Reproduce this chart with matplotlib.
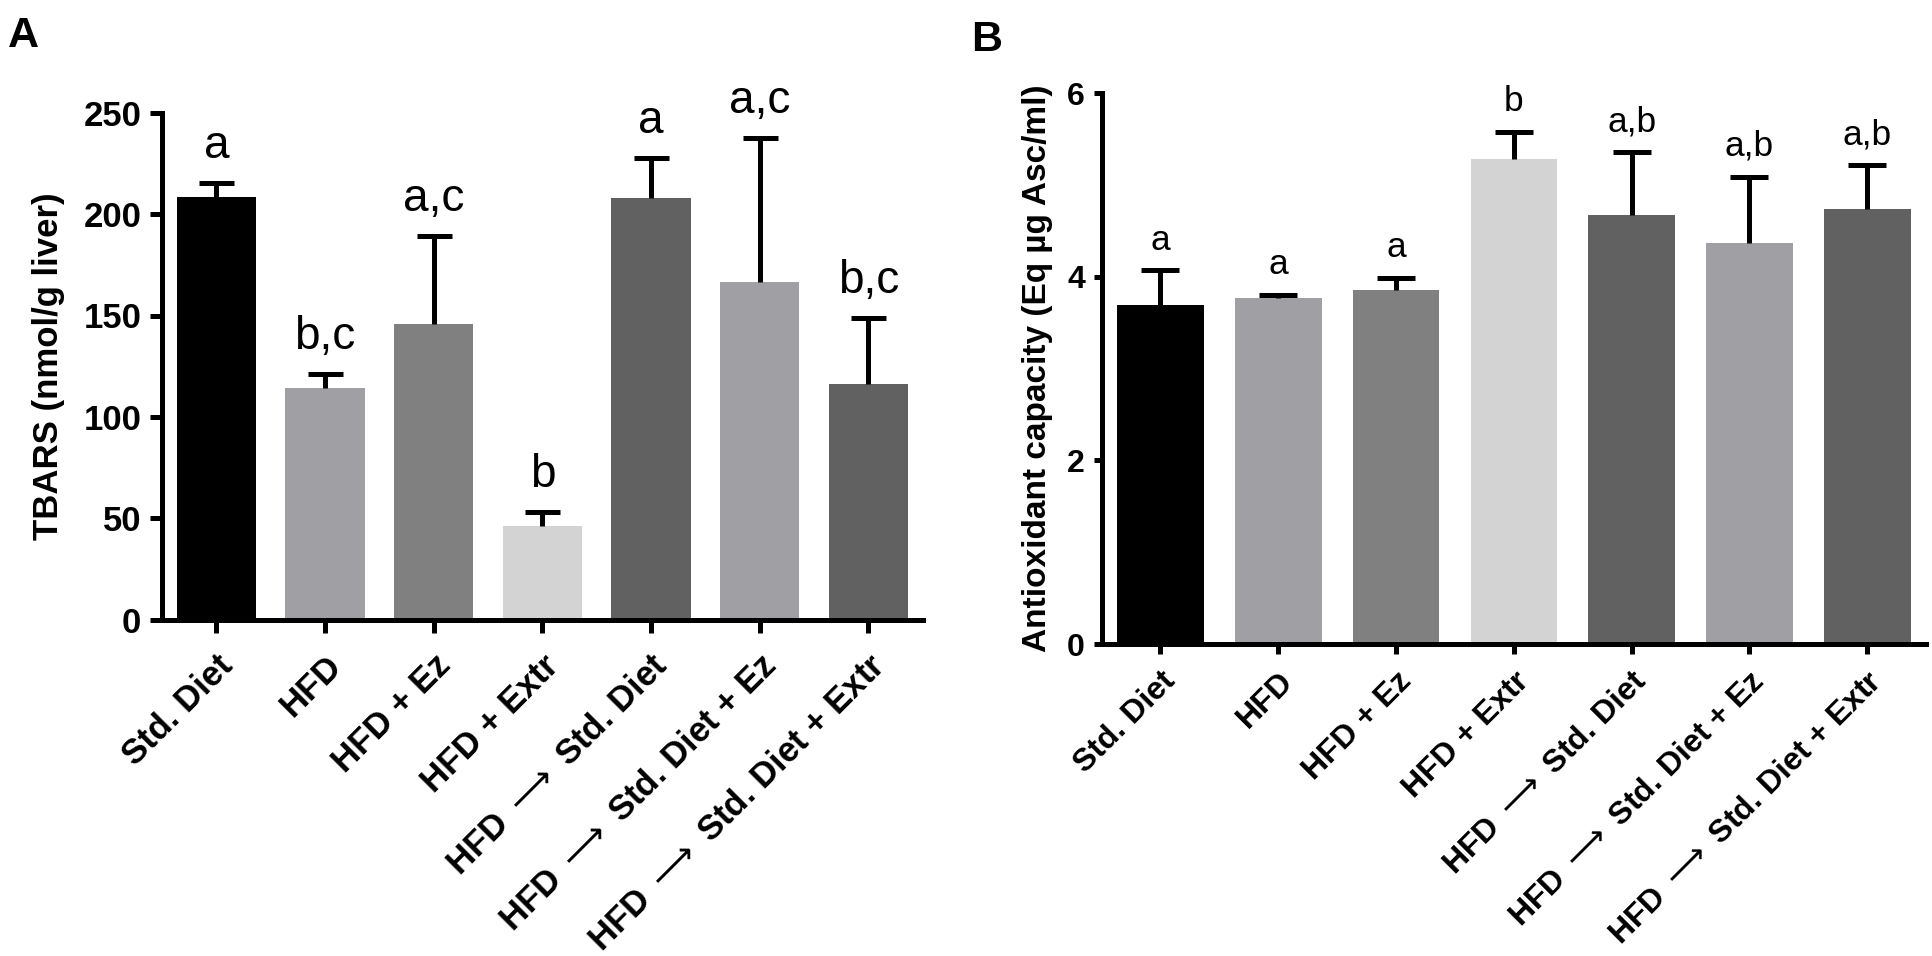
import matplotlib
matplotlib.use("Agg")
import matplotlib.pyplot as plt
from matplotlib.transforms import ScaledTranslation
import numpy as np

# ---------------- data ----------------
groups = ["Std. Diet", "HFD", "HFD + Ez", "HFD + Extr",
          "HFD $\\longrightarrow$ Std. Diet",
          "HFD $\\longrightarrow$ Std. Diet + Ez",
          "HFD $\\longrightarrow$ Std. Diet + Extr"]
bar_colors = ["#000000", "#a0a0a4", "#808080", "#d3d3d3", "#616161", "#a0a0a4", "#616161"]

tbars_mean = [208.2, 114.2, 145.8, 46.3, 208.1, 166.4, 116.2]
tbars_sem = [7.3, 7.0, 43.4, 6.7, 19.4, 71.0, 32.4]
tbars_letters = ["a", "b,c", "a,c", "b", "a", "a,c", "b,c"]
tbars_ticks = [0, 50, 100, 150, 200, 250]

antiox_mean = [3.69, 3.77, 3.86, 5.28, 4.67, 4.37, 4.74]
antiox_sem = [0.38, 0.03, 0.13, 0.30, 0.69, 0.72, 0.48]
antiox_letters = ["a", "a", "a", "b", "a,b", "a,b", "a,b"]
antiox_ticks = [0, 2, 4, 6]

# ---------------- figure ----------------
W, H = 1933, 956
fig = plt.figure(figsize=(W / 100, H / 100), dpi=100)
FONT = "Liberation Sans"
plt.rcParams["font.family"] = [FONT, "DejaVu Sans"]
LW = 3.6


def px_box(left, right, top, bottom):
    return [left / W, 1 - bottom / H, (right - left) / W, (bottom - top) / H]


def panel(ax, means, sems, letters, ticks, ylabel, width, ytick_fs, xtick_fs,
          letter_fs, letter_off, capsize, ylab_x, ylab_fs, ytick_len, xtick_len,
          xpad, xdx):
    x = np.arange(len(means))
    means = np.asarray(means)
    sems = np.asarray(sems)
    ax.bar(x, means, width=width, color=bar_colors, edgecolor="none", zorder=2)
    # upper-only error bars with a single cap
    ax.errorbar(x, means, yerr=[np.zeros(len(sems)), sems], fmt="none",
                ecolor="black", elinewidth=LW, capsize=0, zorder=3)
    ax.plot(x, means + sems, linestyle="none", marker="_", markersize=2 * capsize,
            markeredgewidth=LW, color="black", zorder=3)
    for xi, top, lab in zip(x, means + sems, letters):
        ax.annotate(lab, (xi, top), xytext=(0, letter_off), textcoords="offset points",
                    ha="center", va="baseline", fontsize=letter_fs, family=FONT,
                    fontweight="normal")
    ax.set_xlim(-0.5, len(means) - 0.5)
    ax.set_ylim(ticks[0], ticks[-1])
    ax.set_yticks(ticks)
    ax.set_yticklabels([str(t) for t in ticks], fontsize=ytick_fs, fontweight="bold")
    ax.set_xticks(x)
    ax.set_xticklabels(groups, fontsize=xtick_fs, fontweight="bold",
                       rotation=45, ha="right", va="top", rotation_mode="anchor")
    offset = ScaledTranslation(xdx / 100, 0, fig.dpi_scale_trans)
    for lab in ax.get_xticklabels():
        lab.set_transform(lab.get_transform() + offset)
    for s in ["top", "right"]:
        ax.spines[s].set_visible(False)
    for s in ["left", "bottom"]:
        ax.spines[s].set_linewidth(LW)
    ax.tick_params(axis="y", length=ytick_len, width=LW, pad=6)
    ax.tick_params(axis="x", length=xtick_len, width=LW, pad=xpad)
    ax.set_ylabel(ylabel, fontsize=ylab_fs, fontweight="bold")
    ax.yaxis.set_label_coords(ylab_x, 0.5)


axA = fig.add_axes(px_box(162, 922.8, 112.7, 619.7))
panel(axA, tbars_mean, tbars_sem, tbars_letters, tbars_ticks,
      "TBARS (nmol/g liver)", 0.73, 25, 25, 33, 18, 12.6, -0.1275, 25,
      9, 9, 12, 5)

axB = fig.add_axes(px_box(1101.6, 1926.2, 93.3, 644))
panel(axB, antiox_mean, antiox_sem, antiox_letters, antiox_ticks,
      "Antioxidant capacity (Eq µg Asc/ml)", 0.734, 23, 23, 25.5, 15, 13.7,
      -0.0589, 24, 6, 7, 9, 6)

fig.text(8 / W, 1 - 16 / H, "A", fontsize=31, fontweight="bold", ha="left", va="top")
fig.text(971 / W, 1 - 20 / H, "B", fontsize=31, fontweight="bold", ha="left", va="top")

fig.savefig("out.png", dpi=100)
